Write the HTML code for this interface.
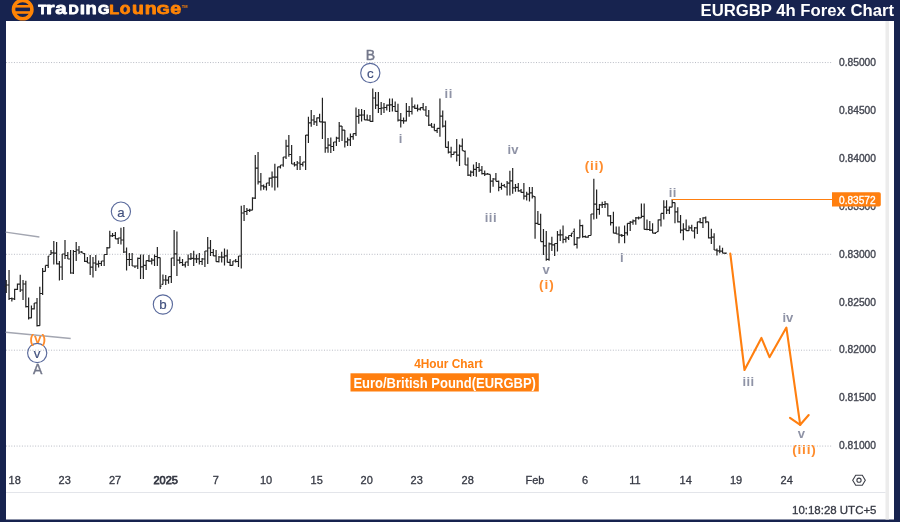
<!DOCTYPE html>
<html><head><meta charset="utf-8"><style>
html,body{margin:0;padding:0;width:900px;height:522px;overflow:hidden;background:#17234f;}
svg{display:block;will-change:transform;}
text{font-family:"Liberation Sans",sans-serif;}
</style></head><body>
<svg width="900" height="522" viewBox="0 0 900 522">
<rect x="0" y="0" width="900" height="522" fill="#17234f"/>
<rect x="6" y="21" width="888" height="498.5" fill="#ffffff"/>
<rect x="885.5" y="21" width="3.5" height="498.5" fill="#ececec"/>
<g stroke="#b8bbc4" stroke-width="1" stroke-dasharray="1 1.65"><line x1="6" y1="62.55" x2="832" y2="62.55"/><line x1="6" y1="254.31" x2="832" y2="254.31"/><line x1="6" y1="350.19" x2="832" y2="350.19"/><line x1="6" y1="446.07" x2="832" y2="446.07"/></g>
<line x1="6" y1="492.5" x2="885.5" y2="492.5" stroke="#e3e5ea" stroke-width="1"/>
<g fill="#454853" stroke="#454853" stroke-width="0.4" font-size="11"><text x="857.5" y="65.8" text-anchor="middle" textLength="37" lengthAdjust="spacingAndGlyphs">0.85000</text><text x="857.5" y="113.74" text-anchor="middle" textLength="37" lengthAdjust="spacingAndGlyphs">0.84500</text><text x="857.5" y="161.68" text-anchor="middle" textLength="37" lengthAdjust="spacingAndGlyphs">0.84000</text><text x="857.5" y="209.62" text-anchor="middle" textLength="37" lengthAdjust="spacingAndGlyphs">0.83500</text><text x="857.5" y="257.56" text-anchor="middle" textLength="37" lengthAdjust="spacingAndGlyphs">0.83000</text><text x="857.5" y="305.5" text-anchor="middle" textLength="37" lengthAdjust="spacingAndGlyphs">0.82500</text><text x="857.5" y="353.44" text-anchor="middle" textLength="37" lengthAdjust="spacingAndGlyphs">0.82000</text><text x="857.5" y="401.38" text-anchor="middle" textLength="37" lengthAdjust="spacingAndGlyphs">0.81500</text><text x="857.5" y="449.32" text-anchor="middle" textLength="37" lengthAdjust="spacingAndGlyphs">0.81000</text></g>
<g fill="#363944" stroke="#363944" stroke-width="0.3" font-size="11"><text x="14.7" y="484" text-anchor="middle">18</text><text x="64.7" y="484" text-anchor="middle">23</text><text x="115" y="484" text-anchor="middle">27</text><text x="165.7" y="484" text-anchor="middle" stroke-width="0.75">2025</text><text x="215.7" y="484" text-anchor="middle">7</text><text x="266" y="484" text-anchor="middle">10</text><text x="316.7" y="484" text-anchor="middle">15</text><text x="366.7" y="484" text-anchor="middle">20</text><text x="416.7" y="484" text-anchor="middle">23</text><text x="467.7" y="484" text-anchor="middle">28</text><text x="535" y="484" text-anchor="middle">Feb</text><text x="585" y="484" text-anchor="middle">6</text><text x="635" y="484" text-anchor="middle">11</text><text x="685.7" y="484" text-anchor="middle">14</text><text x="736" y="484" text-anchor="middle">19</text><text x="786.7" y="484" text-anchor="middle">24</text></g>
<text x="876.5" y="513.6" text-anchor="end" font-size="11.5" fill="#363944" stroke="#363944" stroke-width="0.3" textLength="84.5" lengthAdjust="spacingAndGlyphs">10:18:28 UTC+5</text>
<g transform="translate(859,480.2)" fill="none" stroke="#3c3f48" stroke-width="1.1">
<path d="M-6.3 0L-3.3 -5.0H3.3L6.3 0L3.3 5.0H-3.3Z"/>
<circle r="2.1"/></g>
<!-- trend lines -->
<g stroke="#a3a6b1" stroke-width="1.4"><line x1="5.6" y1="232.1" x2="39.4" y2="237"/><line x1="5.6" y1="332.3" x2="70.7" y2="338.5"/></g>
<!-- bars -->
<path d="M6.25 280.0V293.0M4.80 286.5H6.25M6.25 285.0H7.70M9.04 270.0V300.0M7.59 285.0H9.04M9.04 298.5H10.49M11.84 297.5V301.5M10.39 298.5H11.84M11.84 298.8H13.29M14.64 288.8V300.0M13.19 298.8H14.64M14.64 289.4H16.09M17.44 283.5V290.0M15.99 289.4H17.44M17.44 284.2H18.89M20.24 274.7V292.0M18.79 284.2H20.24M20.24 290.0H21.69M23.03 280.0V300.0M21.58 290.0H23.03M23.03 284.0H24.48M25.83 280.8V307.6M24.38 284.0H25.83M25.83 306.6H27.28M28.63 297.5V319.6M27.18 306.6H28.63M28.63 317.8H30.08M31.43 305.6V318.3M29.98 317.8H31.43M31.43 308.8H32.88M34.23 303.0V309.6M32.78 308.8H34.23M34.23 303.0H35.68M37.02 298.0V326.4M35.57 302.8H37.02M37.02 325.7H38.47M39.82 286.8V325.7M38.37 325.7H39.82M39.82 293.5H41.27M42.62 268.0V295.0M41.17 293.5H42.62M42.62 271.4H44.07M45.42 265.4V271.4M43.97 271.4H45.42M45.42 265.4H46.87M48.22 256.0V268.0M46.77 265.4H48.22M48.22 256.0H49.67M51.01 250.0V254.5M49.56 254.5H51.01M51.01 252.8H52.46M53.81 241.0V264.5M52.36 252.8H53.81M53.81 253.2H55.26M56.61 242.0V264.5M55.16 253.2H56.61M56.61 263.8H58.06M59.41 261.0V280.5M57.96 263.8H59.41M59.41 267.0H60.86M62.21 254.0V280.0M60.76 267.0H62.21M62.21 254.0H63.66M65.00 240.0V259.0M63.55 254.0H65.00M65.00 255.5H66.45M67.80 252.0V259.0M66.35 255.5H67.80M67.80 259.0H69.25M70.60 250.0V273.7M69.15 259.0H70.60M70.60 273.0H72.05M73.40 250.0V274.0M71.95 273.0H73.40M73.40 251.5H74.85M76.20 242.0V261.0M74.75 251.5H76.20M76.20 250.0H77.65M78.99 246.0V254.0M77.54 250.0H78.99M78.99 252.0H80.44M81.79 251.0V253.0M80.34 252.0H81.79M81.79 253.0H83.24M84.59 253.0V262.0M83.14 253.5H84.59M84.59 261.3H86.04M87.39 257.0V263.0M85.94 261.3H87.39M87.39 263.0H88.84M90.19 255.0V275.0M88.74 263.0H90.19M90.19 267.2H91.64M92.98 257.0V277.5M91.53 267.2H92.98M92.98 263.0H94.43M95.78 255.0V271.0M94.33 263.0H95.78M95.78 264.1H97.23M98.58 260.6V267.5M97.13 264.1H98.58M98.58 263.5H100.03M101.38 261.0V266.0M99.93 263.5H101.38M101.38 261.0H102.83M104.18 254.5V266.0M102.73 261.0H104.18M104.18 254.5H105.63M106.97 247.0V255.0M105.52 254.5H106.97M106.97 247.8H108.42M109.77 230.7V248.0M108.32 247.8H109.77M109.77 235.8H111.22M112.57 233.0V237.0M111.12 235.8H112.57M112.57 235.5H114.02M115.37 232.0V239.0M113.92 235.5H115.37M115.37 238.8H116.82M118.17 238.0V244.0M116.72 238.8H118.17M118.17 238.0H119.62M120.96 227.7V244.5M119.51 238.0H120.96M120.96 240.0H122.41M123.76 227.0V253.0M122.31 240.0H123.76M123.76 252.0H125.21M126.56 247.6V270.6M125.11 252.0H126.56M126.56 259.5H128.01M129.36 253.0V266.0M127.91 259.5H129.36M129.36 259.5H130.81M132.16 253.0V266.0M130.71 259.5H132.16M132.16 266.0H133.61M134.95 266.0V268.0M133.50 266.0H134.95M134.95 266.0H136.40M137.75 257.6V269.0M136.30 266.0H137.75M137.75 258.3H139.20M140.55 254.5V279.0M139.10 258.3H140.55M140.55 266.8H142.00M143.35 254.5V279.0M141.90 266.8H143.35M143.35 265.3H144.80M146.15 260.6V270.0M144.70 265.3H146.15M146.15 260.6H147.60M148.94 255.0V262.0M147.49 260.6H148.94M148.94 261.2H150.39M151.74 258.0V264.5M150.29 261.2H151.74M151.74 260.2H153.19M154.54 254.5V266.0M153.09 260.2H154.54M154.54 256.5H155.99M157.34 247.0V266.0M155.89 256.5H157.34M157.34 257.6H158.79M160.14 257.6V289.0M158.69 257.6H160.14M160.14 286.2H161.59M162.93 274.5V284.4M161.48 284.4H162.93M162.93 280.0H164.38M165.73 275.0V285.0M164.28 280.0H165.73M165.73 280.2H167.18M168.53 276.7V283.7M167.08 280.2H168.53M168.53 276.7H169.98M171.33 258.0V283.0M169.88 276.7H171.33M171.33 258.0H172.78M174.13 230.0V266.0M172.68 258.0H174.13M174.13 253.8H175.58M176.92 231.5V276.0M175.47 253.8H176.92M176.92 260.2H178.37M179.72 256.8V263.7M178.27 260.2H179.72M179.72 262.5H181.17M182.52 259.0V266.0M181.07 262.5H182.52M182.52 264.8H183.97M185.32 262.0V267.5M183.87 264.8H185.32M185.32 262.0H186.77M188.12 254.5V266.0M186.67 262.0H188.12M188.12 258.8H189.57M190.91 253.0V260.0M189.46 258.8H190.91M190.91 258.4H192.36M193.71 250.7V266.0M192.26 258.4H193.71M193.71 258.8H195.16M196.51 254.5V263.0M195.06 258.8H196.51M196.51 258.8H197.96M199.31 253.0V264.5M197.86 258.8H199.31M199.31 261.5H200.76M202.11 258.0V265.0M200.66 261.5H202.11M202.11 259.0H203.56M204.90 251.0V267.0M203.45 259.0H204.90M204.90 251.0H206.35M207.70 237.0V264.0M206.25 251.0H207.70M207.70 248.0H209.15M210.50 240.0V256.0M209.05 248.0H210.50M210.50 252.5H211.95M213.30 249.0V256.0M211.85 252.5H213.30M213.30 255.8H214.75M216.10 250.0V261.7M214.65 255.8H216.10M216.10 261.7H217.55M218.89 256.0V262.4M217.44 261.7H218.89M218.89 257.0H220.34M221.69 251.7V262.4M220.24 257.0H221.69M221.69 257.1H223.14M224.49 248.6V265.5M223.04 257.1H224.49M224.49 255.9H225.94M227.29 249.4V262.4M225.84 255.9H227.29M227.29 262.4H228.74M230.09 259.0V266.0M228.64 262.4H230.09M230.09 265.4H231.54M232.88 261.0V265.5M231.43 265.4H232.88M232.88 261.0H234.33M235.68 259.0V262.4M234.23 261.0H235.68M235.68 261.5H237.13M238.48 256.0V267.0M237.03 261.5H238.48M238.48 256.0H239.93M241.28 205.7V268.6M239.83 256.0H241.28M241.28 213.0H242.73M244.08 205.0V221.0M242.63 213.0H244.08M244.08 211.5H245.53M246.87 208.0V215.0M245.42 211.5H246.87M246.87 210.4H248.32M249.67 208.8V211.9M248.22 210.4H249.67M249.67 210.2H251.12M252.47 197.3V210.3M251.02 210.2H252.47M252.47 198.2H253.92M255.27 155.0V199.0M253.82 198.2H255.27M255.27 168.2H256.72M258.07 152.0V184.4M256.62 168.2H258.07M258.07 181.8H259.52M260.86 173.0V190.6M259.41 181.8H260.86M260.86 185.8H262.31M263.66 184.4V189.8M262.21 185.8H263.66M263.66 186.8H265.11M266.46 183.0V190.6M265.01 186.8H266.46M266.46 183.0H267.91M269.26 177.5V186.0M267.81 183.0H269.26M269.26 178.2H270.71M272.06 171.4V187.5M270.61 178.2H272.06M272.06 177.2H273.51M274.85 163.8V190.6M273.40 177.2H274.85M274.85 177.2H276.30M277.65 166.8V187.5M276.20 177.2H277.65M277.65 166.8H279.10M280.45 165.0V168.4M279.00 166.8H280.45M280.45 165.0H281.90M283.25 157.0V166.8M281.80 165.0H283.25M283.25 157.0H284.70M286.05 139.8V159.0M284.60 157.0H286.05M286.05 146.2H287.50M288.84 135.0V156.7M287.39 146.2H288.84M288.84 154.5H290.29M291.64 145.0V164.0M290.19 154.5H291.64M291.64 164.0H293.09M294.44 162.0V166.6M292.99 164.0H294.44M294.44 164.8H295.89M297.24 161.0V170.0M295.79 164.8H297.24M297.24 163.0H298.69M300.04 156.0V170.0M298.59 163.0H300.04M300.04 164.3H301.49M302.83 162.0V166.6M301.38 164.3H302.83M302.83 162.0H304.28M305.63 135.0V170.0M304.18 162.0H305.63M305.63 135.2H307.08M308.43 116.8V142.9M306.98 135.2H308.43M308.43 122.8H309.88M311.23 110.0V126.8M309.78 122.8H311.23M311.23 120.0H312.68M314.03 115.0V125.0M312.58 120.0H314.03M314.03 121.8H315.48M316.82 117.6V126.0M315.37 121.8H316.82M316.82 117.9H318.27M319.62 113.8V122.0M318.17 117.9H319.62M319.62 121.8H321.07M322.42 97.7V139.0M320.97 121.8H322.42M322.42 122.2H323.87M325.22 121.4V152.8M323.77 122.2H325.22M325.22 147.8H326.67M328.02 138.0V152.8M326.57 147.8H328.02M328.02 145.2H329.47M330.81 137.5V153.0M329.36 145.2H330.81M330.81 146.5H332.26M333.61 142.0V151.0M332.16 146.5H333.61M333.61 142.0H335.06M336.41 136.7V146.0M334.96 142.0H336.41M336.41 138.2H337.86M339.21 122.0V142.0M337.76 138.2H339.21M339.21 126.2H340.66M342.01 126.0V141.0M340.56 126.2H342.01M342.01 130.2H343.46M344.80 130.0V147.4M343.35 130.2H344.80M344.80 141.8H346.25M347.60 137.5V146.0M346.15 141.8H347.60M347.60 139.8H349.05M350.40 133.6V146.0M348.95 139.8H350.40M350.40 136.7H351.85M353.20 133.6V139.8M351.75 136.7H353.20M353.20 133.6H354.65M356.00 107.6V136.0M354.55 133.6H356.00M356.00 116.3H357.45M358.79 109.0V123.7M357.34 116.3H358.79M358.79 115.2H360.24M361.59 109.0V121.4M360.14 115.2H361.59M361.59 115.0H363.04M364.39 110.0V120.0M362.94 115.0H364.39M364.39 119.8H365.84M367.19 114.5V120.6M365.74 119.8H367.19M367.19 120.2H368.64M369.99 115.0V121.4M368.54 120.2H369.99M369.99 121.3H371.44M372.78 88.4V122.0M371.33 121.3H372.78M372.78 98.0H374.23M375.58 92.0V109.0M374.13 98.0H375.58M375.58 105.2H377.03M378.38 92.0V113.0M376.93 105.2H378.38M378.38 108.5H379.83M381.18 102.0V115.0M379.73 108.5H381.18M381.18 108.0H382.63M383.98 103.0V113.0M382.53 108.0H383.98M383.98 107.5H385.43M386.77 104.5V110.6M385.32 107.5H386.77M386.77 105.2H388.22M389.57 98.4V112.0M388.12 105.2H389.57M389.57 104.9H391.02M392.37 98.4V111.4M390.92 104.9H392.37M392.37 106.5H393.82M395.17 101.5V111.4M393.72 106.5H395.17M395.17 111.4H396.62M397.97 103.8V121.4M396.52 111.4H397.97M397.97 120.2H399.42M400.76 113.0V127.5M399.31 120.2H400.76M400.76 120.6H402.21M403.56 117.5V123.7M402.11 120.6H403.56M403.56 120.9H405.01M406.36 103.0V121.4M404.91 120.9H406.36M406.36 111.4H407.81M409.16 106.0V116.8M407.71 111.4H409.16M409.16 111.5H410.61M411.96 97.6V114.5M410.51 111.5H411.96M411.96 106.8H413.41M414.75 104.5V109.0M413.30 106.8H414.75M414.75 108.4H416.20M417.55 104.5V111.4M416.10 108.4H417.55M417.55 109.1H419.00M420.35 107.6V110.6M418.90 109.1H420.35M420.35 107.6H421.80M423.15 103.0V110.0M421.70 107.6H423.15M423.15 110.0H424.60M425.95 106.0V116.0M424.50 110.0H425.95M425.95 116.0H427.40M428.74 110.0V126.0M427.29 116.0H428.74M428.74 125.2H430.19M431.54 123.0V127.5M430.09 125.2H431.54M431.54 127.2H432.99M434.34 123.7V130.6M432.89 127.2H434.34M434.34 130.6H435.79M437.14 128.3V133.0M435.69 130.6H437.14M437.14 128.3H438.59M439.94 98.4V136.7M438.49 128.3H439.94M439.94 116.2H441.39M442.73 110.6V127.5M441.28 116.2H442.73M442.73 126.2H444.18M445.53 120.6V147.6M444.08 126.2H445.53M445.53 147.4H446.98M448.33 141.3V153.6M446.88 147.4H448.33M448.33 152.2H449.78M451.13 146.8V157.5M449.68 152.2H451.13M451.13 154.5H452.58M453.93 151.4V154.5M452.48 154.5H453.93M453.93 152.1H455.38M456.72 139.0V161.4M455.27 152.1H456.72M456.72 155.2H458.17M459.52 144.5V166.0M458.07 155.2H459.52M459.52 146.1H460.97M462.32 138.4V150.6M460.87 146.1H462.32M462.32 150.6H463.77M465.12 150.6V165.0M463.67 151.3H465.12M465.12 165.0H466.57M467.92 157.5V176.0M466.47 165.0H467.92M467.92 175.2H469.37M470.71 170.6V176.7M469.26 175.2H470.71M470.71 172.1H472.16M473.51 164.4V176.0M472.06 172.1H473.51M473.51 169.3H474.96M476.31 162.0V176.7M474.86 169.3H476.31M476.31 167.5H477.76M479.11 163.0V172.0M477.66 167.5H479.11M479.11 170.2H480.56M481.91 166.0V174.4M480.46 170.2H481.91M481.91 173.7H483.36M484.70 170.6V176.0M483.25 173.7H484.70M484.70 174.1H486.15M487.50 172.9V174.4M486.05 174.1H487.50M487.50 174.1H488.95M490.30 174.4V192.8M488.85 174.4H490.30M490.30 181.2H491.75M493.10 178.0V186.7M491.65 181.2H493.10M493.10 179.0H494.55M495.90 172.9V181.3M494.45 179.0H495.90M495.90 181.3H497.35M498.69 180.5V191.3M497.24 181.3H498.69M498.69 187.4H500.14M501.49 182.8V189.7M500.04 187.4H501.49M501.49 185.5H502.94M504.29 184.0V187.0M502.84 185.5H504.29M504.29 187.0H505.74M507.09 181.0V195.6M505.64 187.0H507.09M507.09 183.1H508.54M509.89 170.7V195.6M508.44 183.1H509.89M509.89 180.8H511.34M512.68 168.0V193.7M511.23 180.8H512.68M512.68 187.9H514.13M515.48 184.0V191.8M514.03 187.9H515.48M515.48 187.4H516.93M518.28 183.0V191.8M516.83 187.4H518.28M518.28 190.9H519.73M521.08 189.0V192.8M519.63 190.9H521.08M521.08 192.3H522.53M523.88 183.0V199.5M522.43 192.3H523.88M523.88 196.1H525.33M526.67 191.8V200.4M525.22 196.1H526.67M526.67 194.2H528.12M529.47 187.0V201.4M528.02 194.2H529.47M529.47 192.8H530.92M532.27 187.0V198.5M530.82 192.8H532.27M532.27 196.1H533.72M535.07 196.6V238.8M533.62 196.6H535.07M535.07 223.4H536.52M537.87 211.0V224.4M536.42 223.4H537.87M537.87 224.4H539.32M540.66 213.8V241.6M539.21 224.4H540.66M540.66 241.6H542.11M543.46 229.0V255.0M542.01 241.6H543.46M543.46 245.9H544.91M546.26 231.0V260.8M544.81 245.9H546.26M546.26 259.4H547.71M549.06 242.6V260.8M547.61 259.4H549.06M549.06 243.9H550.51M551.86 236.8V251.0M550.41 243.9H551.86M551.86 244.9H553.31M554.65 243.5V256.0M553.20 244.9H554.65M554.65 243.5H556.10M557.45 231.0V251.6M556.00 243.5H557.45M557.45 234.8H558.90M560.25 229.4V241.0M558.80 234.8H560.25M560.25 234.8H561.70M563.05 225.6V243.2M561.60 234.8H563.05M563.05 239.4H564.50M565.85 236.3V242.4M564.40 239.4H565.85M565.85 237.8H567.30M568.64 235.5V240.0M567.19 237.8H568.64M568.64 235.5H570.09M571.44 233.2V237.0M569.99 235.5H571.44M571.44 233.2H572.89M574.24 228.6V245.5M572.79 231.5H574.24M574.24 244.3H575.69M577.04 237.0V248.6M575.59 244.3H577.04M577.04 237.8H578.49M579.84 219.4V237.8M578.39 237.8H579.84M579.84 225.6H581.29M582.63 224.8V237.8M581.18 225.6H582.63M582.63 236.7H584.08M585.43 235.5V237.8M583.98 236.7H585.43M585.43 237.1H586.88M588.23 235.5V237.8M586.78 237.1H588.23M588.23 235.5H589.68M591.03 214.0V235.5M589.58 235.5H591.03M591.03 214.0H592.48M593.83 178.8V219.4M592.38 214.0H593.83M593.83 204.1H595.28M596.62 189.6V218.7M595.17 204.1H596.62M596.62 209.4H598.07M599.42 204.0V214.8M597.97 209.4H599.42M599.42 204.9H600.87M602.22 201.8V208.0M600.77 204.9H602.22M602.22 204.5H603.67M605.02 201.0V208.0M603.57 204.5H605.02M605.02 203.8H606.47M607.82 203.4V216.4M606.37 203.8H607.82M607.82 215.9H609.27M610.61 215.0V225.6M609.16 215.9H610.61M610.61 222.6H612.06M613.41 211.8V233.3M611.96 222.6H613.41M613.41 233.2H614.86M616.21 226.4V234.0M614.76 233.2H616.21M616.21 234.0H617.66M619.01 226.4V243.2M617.56 234.0H619.01M619.01 235.2H620.46M621.81 234.0V237.0M620.36 235.2H621.81M621.81 235.5H623.26M624.60 225.6V243.2M623.15 235.5H624.60M624.60 232.8H626.05M627.40 223.3V235.6M625.95 232.8H627.40M627.40 223.3H628.85M630.20 221.0V231.0M628.75 223.3H630.20M630.20 222.2H631.65M633.00 219.5V224.8M631.55 222.2H633.00M633.00 220.9H634.45M635.80 217.0V224.8M634.35 220.9H635.80M635.80 217.9H637.25M638.59 216.4V219.5M637.14 217.9H638.59M638.59 217.9H640.04M641.39 203.4V218.0M639.94 217.9H641.39M641.39 216.4H642.84M644.19 203.4V229.4M642.74 216.4H644.19M644.19 229.4H645.64M646.99 219.5V230.2M645.54 229.4H646.99M646.99 229.5H648.44M649.79 221.0V231.0M648.34 229.5H649.79M649.79 230.2H651.24M652.58 223.3V233.3M651.13 230.2H652.58M652.58 233.2H654.03M655.38 232.5V234.0M653.93 233.2H655.38M655.38 232.5H656.83M658.18 219.5V231.7M656.73 231.7H658.18M658.18 219.9H659.63M660.98 213.4V226.4M659.53 219.9H660.98M660.98 213.4H662.43M663.78 200.3V219.5M662.33 213.4H663.78M663.78 207.2H665.23M666.57 200.3V214.0M665.12 207.2H666.57M666.57 210.2H668.02M669.37 206.5V214.0M667.92 210.2H669.37M669.37 207.2H670.82M672.17 199.6V207.2M670.72 207.2H672.17M672.17 202.7H673.62M674.97 202.6V223.3M673.52 202.7H674.97M674.97 211.8H676.42M677.77 207.2V222.5M676.32 211.8H677.77M677.77 221.8H679.22M680.56 214.9V233.3M679.11 221.8H680.56M680.56 230.2H682.01M683.36 223.3V240.2M681.91 230.2H683.36M683.36 229.1H684.81M686.16 219.5V231.0M684.71 229.1H686.16M686.16 230.6H687.61M688.96 225.6V231.0M687.51 230.6H688.96M688.96 227.9H690.41M691.76 224.8V231.0M690.31 227.9H691.76M691.76 231.0H693.21M694.55 227.0V238.6M693.10 231.0H694.55M694.55 227.9H696.00M697.35 221.8V234.0M695.90 227.9H697.35M697.35 221.8H698.80M700.15 218.0V223.3M698.70 221.8H700.15M700.15 222.6H701.60M702.95 217.2V228.0M701.50 222.6H702.95M702.95 217.9H704.40M705.75 216.4V223.3M704.30 217.9H705.75M705.75 221.8H707.20M708.54 221.8V238.6M707.09 221.8H708.54M708.54 237.8H709.99M711.34 228.7V244.0M709.89 237.8H711.34M711.34 237.1H712.79M714.14 233.3V250.0M712.69 237.1H714.14M714.14 250.0H715.59M716.94 248.6V255.5M715.49 250.2H716.94M716.94 250.9H718.39M719.74 245.5V253.2M718.29 250.9H719.74M719.74 251.2H721.19M722.53 247.8V253.2M721.08 251.2H722.53M722.53 253.2H723.98M725.33 252.4V254.0M723.88 253.2H725.33M725.33 253.2H726.78" stroke="#222" stroke-width="1.2" fill="none"/>
<!-- orange level -->
<line x1="671.6" y1="199.5" x2="832" y2="199.5" stroke="#ff7f0f" stroke-width="1.2"/>
<path d="M832 192.2H879a1.8 1.8 0 0 1 1.8 1.8V204.8a1.8 1.8 0 0 1 -1.8 1.8H832Z" fill="#ff7f0f"/>
<text x="857.3" y="203.7" text-anchor="middle" font-size="11" fill="#fff" stroke="#fff" stroke-width="0.35" textLength="36.6" lengthAdjust="spacingAndGlyphs">0.83572</text>
<!-- projection -->
<polyline points="730.3,253.6 744.5,370 761.4,337.9 769.5,357.2 786.4,327.6 800.2,424.8" fill="none" stroke="#ff7f0f" stroke-width="2.1" stroke-linejoin="round" stroke-linecap="round"/>
<polyline points="790,417.8 800.2,424.8 808.7,415" fill="none" stroke="#ff7f0f" stroke-width="2.1" stroke-linejoin="round" stroke-linecap="round"/>

<!-- header -->
<g transform="translate(22.7,9.6)">
<circle r="9.2" fill="none" stroke="#ff8405" stroke-width="3.6"/>
<rect x="-9" y="-4.6" width="18" height="2.6" fill="#ff8405"/>
<rect x="-9" y="1.6" width="18" height="2.6" fill="#ff8405"/>
</g>
<g font-weight="bold" stroke-width="0.8" stroke-linejoin="round">
<text transform="translate(38.25,13.7) scale(1.075,1)" font-size="12.79" fill="#fff" stroke="#fff">T</text>
<text transform="translate(46.05,13.7) scale(1.325,1)" font-size="16.66" fill="#fff" stroke="#fff">r</text>
<text transform="translate(55.30,13.7) scale(1.227,1)" font-size="16.66" fill="#fff" stroke="#fff">a</text>
<text transform="translate(68.45,13.7) scale(1.109,1)" font-size="12.79" fill="#fff" stroke="#fff">D</text>
<text transform="translate(80.04,13.7) scale(1.357,1)" font-size="12.79" fill="#fff" stroke="#fff">I</text>
<text transform="translate(85.59,13.7) scale(1.106,1)" font-size="16.66" fill="#fff" stroke="#fff">n</text>
<text transform="translate(98.00,13.7) scale(1.147,1)" font-size="12.79" fill="#fff" stroke="#fff">G</text>
<text transform="translate(109.32,13.7) scale(1.264,1)" font-size="12.79" fill="#ff8405" stroke="#ff8405">L</text>
<text transform="translate(119.71,13.7) scale(1.059,1)" font-size="16.66" fill="#ff8405" stroke="#ff8405">o</text>
<text transform="translate(132.09,13.7) scale(1.169,1)" font-size="16.66" fill="#ff8405" stroke="#ff8405">u</text>
<text transform="translate(144.72,13.7) scale(1.169,1)" font-size="16.66" fill="#ff8405" stroke="#ff8405">n</text>
<text transform="translate(156.72,13.7) scale(1.298,1)" font-size="12.79" fill="#ff8405" stroke="#ff8405">G</text>
<text transform="translate(170.33,13.7) scale(1.181,1)" font-size="16.66" fill="#ff8405" stroke="#ff8405">e</text>
</g>
<text x="181.8" y="7.6" font-size="4" font-weight="bold" fill="#ff8405">TM</text>
<text x="894" y="15.9" text-anchor="end" font-size="16" font-weight="bold" fill="#fff" textLength="193.5" lengthAdjust="spacingAndGlyphs">EURGBP 4h Forex Chart</text>
<!-- wave labels -->
<g fill="none" stroke="#5a6a9c" stroke-width="1.15">
<circle cx="37.2" cy="353" r="9.6"/>
<circle cx="120.9" cy="211.6" r="9.6"/>
<circle cx="162.9" cy="304.5" r="9.6"/>
<circle cx="370.3" cy="73" r="9.6"/>
</g>
<g fill="#42517f" stroke="#42517f" stroke-width="0.2" font-size="13.3" text-anchor="middle">
<text x="37.2" y="357.8">v</text>
<text x="120.9" y="216.6">a</text>
<text x="162.9" y="309">b</text>
<text x="370.3" y="77.5">c</text>
</g>
<g fill="#73778a" stroke="#73778a" stroke-width="0.4" font-size="14" text-anchor="middle">
<text x="37.6" y="374">A</text>
<text x="370.4" y="60.3">B</text>
</g>
<g fill="#8f93a6" font-size="13" font-weight="bold" text-anchor="middle">
<text x="400.50" y="142.9">i</text>
<text x="448.65" y="97.9" letter-spacing="0.5">ii</text>
<text x="513.00" y="154.2">iv</text>
<text x="490.85" y="221.6" letter-spacing="0.5">iii</text>
<text x="546.00" y="273.6">v</text>
<text x="672.75" y="196.5" letter-spacing="0.5">ii</text>
<text x="621.80" y="261.6">i</text>
<text x="748.55" y="386.0" letter-spacing="0.5">iii</text>
<text x="787.80" y="322.2">iv</text>
<text x="801.40" y="438.0">v</text>
</g>
<g fill="#ff8c2c" font-size="13.5" font-weight="bold" text-anchor="middle">
<text x="37.8" y="343" textLength="16.4" lengthAdjust="spacing">(v)</text>
<text x="546.3" y="288.6" textLength="14.7" lengthAdjust="spacing">(i)</text>
<text x="594.1" y="170.3" textLength="18.7" lengthAdjust="spacing">(ii)</text>
<text x="804" y="453.8" textLength="23.5" lengthAdjust="spacing">(iii)</text>
</g>
<text x="448.5" y="368.2" text-anchor="middle" font-size="12.5" font-weight="bold" fill="#ff7f0f" textLength="68.6" lengthAdjust="spacingAndGlyphs">4Hour Chart</text>
<rect x="350.5" y="373.3" width="188.3" height="18.2" fill="#ff7f0f"/>
<text x="444.7" y="387.8" text-anchor="middle" font-size="14" font-weight="bold" fill="#fff" textLength="182.5" lengthAdjust="spacingAndGlyphs">Euro/British Pound(EURGBP)</text>
</svg>
</body></html>
